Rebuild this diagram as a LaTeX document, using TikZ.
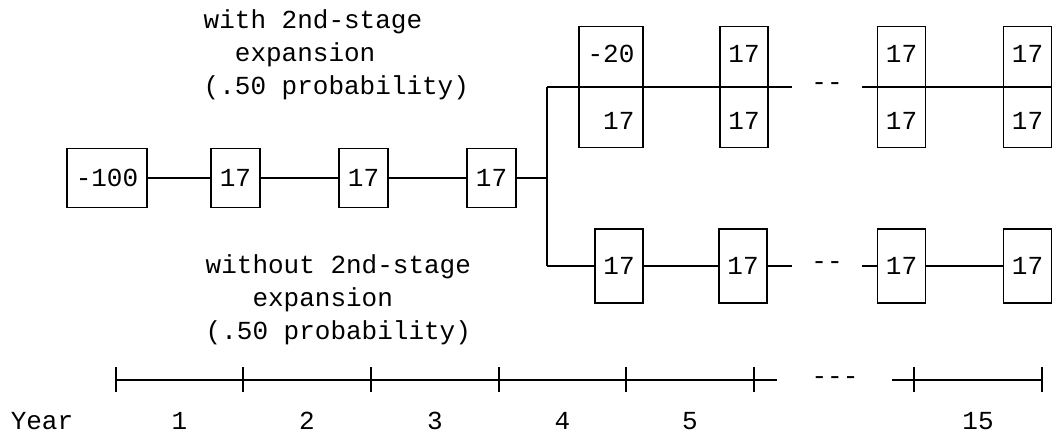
\documentclass[tikz,border=0pt]{standalone}
\usepackage{fontspec}
\usepackage{tikz}
\usetikzlibrary{positioning}
\newfontfamily\cour{Liberation Mono}

\begin{document}
\begin{tikzpicture}[
    x=0.5pt, y=-0.5pt, line width=0.7pt,
    cashbox/.style={rectangle, draw=black, inner sep=0pt, minimum height=29.5pt, font=\cour\fontsize{13}{16}\selectfont},
    twobox/.style={rectangle, draw=black, inner sep=0pt, minimum width=24pt, minimum height=60.5pt, align=right, font=\cour\fontsize{13}{33.5}\selectfont},
    lowbox/.style={rectangle, draw=black, inner sep=0pt, minimum width=24pt, minimum height=37pt, font=\cour\fontsize{13}{16}\selectfont},
    branchlabel/.style={anchor=base west, inner sep=0pt, align=left, font=\cour\fontsize{13}{16.5}\selectfont},
    yearlabel/.style={inner sep=0pt, font=\cour\fontsize{13}{16}\selectfont},
]
\useasboundingbox (0,0) rectangle (1061,432);

% First stage
\node[cashbox, minimum width=40pt] (m0) at (107,178) {-100};
\node[cashbox, minimum width=24.5pt] (m1) at (235.5,178) {17};
\node[cashbox, minimum width=24.5pt] (m2) at (363.5,178) {17};
\node[cashbox, minimum width=24.5pt] (m3) at (491.5,178) {17};

% Branch point
\coordinate (jt) at (547,87);
\coordinate (jm) at (547,178);
\coordinate (jb) at (547,266);

% With 2nd-stage expansion
\node[twobox, minimum width=32pt] (t1) at (611,87) {-20\\17};
\node[twobox] (t2) at (744,87) {17\\17};
\node[twobox] (t3) at (901.5,87) {17\\17};
\node[twobox] (t4) at (1027.5,87) {17\\17};
\coordinate (tgapa) at (792,87);
\coordinate (tgapb) at (862,87);
\node[yearlabel] (tdots) at (827,87) {--};

% Without 2nd-stage expansion
\node[lowbox] (b1) at (619,266) {17};
\node[lowbox] (b2) at (743,266) {17};
\node[lowbox] (b3) at (901.5,266) {17};
\node[lowbox] (b4) at (1027.5,266) {17};
\coordinate (bgapa) at (792,266);
\coordinate (bgapb) at (862,266);
\node[yearlabel] (bdots) at (827,266) {--};

% Labels
\node[branchlabel] (withlbl) at (203,95) {with 2nd-stage\\\phantom{xx}expansion\\(.50 probability)};
\node[branchlabel] (withoutlbl) at (205,340) {without 2nd-stage\\\phantom{xxx}expansion\\(.50 probability)};

% Connections
\draw (m0) -- (m1) -- (m2) -- (m3) -- (jm);
\draw (jt) -- (jb);
\draw (jt) -- (tgapa);
\draw (tgapb) -- (t4.east);
\draw (jb) -- (b1) -- (b2) -- (bgapa);
\draw (bgapb) -- (b3) -- (b4);

% Time line
\foreach \x [count=\i] in {116,243,371,499,626,754}
    \coordinate (y\i) at (\x,380);
\coordinate (y14) at (914,380);
\coordinate (y15) at (1042,380);
\coordinate (ygapa) at (777,380);
\coordinate (ygapb) at (892,380);
\draw (y1) -- (ygapa);
\draw (ygapb) -- (y15);
\foreach \c in {y1,y2,y3,y4,y5,y6,y14,y15}
    \draw (\c) ++(0,-12.5) -- ++(0,25);
\node[yearlabel] (ydots) at (835,381) {---};

\node[yearlabel] (year) at (42,421) {Year};
\foreach \x/\n in {179.5/1,307/2,435/3,562.5/4,690/5,978/15}
    \node[yearlabel] (yl\n) at (\x,421) {\n};
\end{tikzpicture}
\end{document}
